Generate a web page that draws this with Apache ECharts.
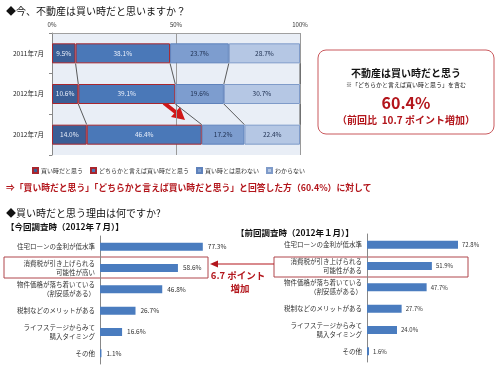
<!DOCTYPE html>
<html><head><meta charset="utf-8">
<script src="https://cdn.jsdelivr.net/npm/echarts@6/dist/echarts.min.js"></script>
<style>html,body{margin:0;padding:0;background:#fff}#c{width:500px;height:375px}</style>
</head><body><div id="c"></div>
<script>
const topCategories = ['2011年7月', '2012年1月', '2012年7月'];
const seriesNames = ['買い時だと思う', 'どちらかと言えば買い時だと思う', '買い時とは思わない', 'わからない'];
const buyNow = [9.5, 10.6, 14.0];
const ratherBuy = [38.1, 39.1, 46.4];
const notBuy = [23.7, 19.6, 17.2];
const unknown = [28.7, 30.7, 22.4];
const pctTicks = ['0%', '50%', '100%'];

const reasonsNow = ['住宅ローンの金利が低水準', '消費税が引き上げられる\n可能性が高い', '物件価格が落ち着いている\n（割安感がある）', '税制などのメリットがある', 'ライフステージからみて\n購入タイミング', 'その他'];
const valuesNow = [77.3, 58.6, 46.8, 26.7, 16.6, 1.1];
const reasonsPrev = ['住宅ローンの金利が低水準', '消費税が引き上げられる\n可能性がある', '物件価格が落ち着いている\n（割安感がある）', '税制などのメリットがある', 'ライフステージからみて\n購入タイミング', 'その他'];
const valuesPrev = [72.8, 51.9, 47.7, 27.7, 24.0, 1.6];

const FONT = '"Noto Sans CJK JP", "Noto Sans", sans-serif';
const RED = '#b3161c';
const stackData = [buyNow, ratherBuy, notBuy, unknown];
const fills = ['#3a5e96', '#4a78b8', '#7d9dcf', '#b5c7e4'];
const borders = ['#a8262e', '#a8262e', '#5f82bb', '#7f9bc9'];
const labelColors = ['#e8eefa', '#e8eefa', '#1e2f50', '#1e2f50'];

// series lines between consecutive bars (cumulative boundaries, incl. total)
const connectors = [];
for (let i = 0; i < topCategories.length - 1; i++) {
  for (let j = 1; j <= stackData.length; j++) {
    let a = 0, b = 0;
    for (let k = 0; k < j; k++) { a += stackData[k][i]; b += stackData[k][i + 1]; }
    connectors.push([a, i, b, i + 1]);
  }
}

const chart = echarts.init(document.getElementById('c'), null, {renderer: 'canvas'});

const barSeries = stackData.map((d, s) => ({
  name: seriesNames[s], type: 'bar', stack: 'all', xAxisIndex: 0, yAxisIndex: 0,
  data: d, barWidth: 20,
  itemStyle: {color: fills[s], borderColor: borders[s], borderWidth: 1},
  label: {show: true, position: 'inside', fontSize: 6.5, fontFamily: FONT, color: labelColors[s],
    formatter: p => p.value.toFixed(1) + '%'},
  emphasis: {disabled: true}
}));

function txt(x, y, text, size, color, weight, align) {
  return {type: 'text', x: x, y: y, silent: true,
    style: {text: text, fill: color || '#000', font: (weight || 'normal') + ' ' + size + 'px ' + FONT,
      align: align || 'left', verticalAlign: 'middle'}};
}

chart.setOption({
  animation: false,
  textStyle: {fontFamily: FONT},
  grid: [
    {left: 52, width: 248, top: 33, height: 122, show: true, backgroundColor: '#e9eef6', borderWidth: 0},
    {left: 100, width: 133, top: 236, height: 128},
    {left: 367, width: 125, top: 234, height: 128}
  ],
  legend: {
    data: seriesNames, left: 27, top: 162, itemWidth: 5, itemHeight: 5, itemGap: 7,
    icon: 'rect', textStyle: {fontSize: 6, color: '#333', fontFamily: FONT, padding: [0, 0, 0, -2]}
  },
  xAxis: [
    {gridIndex: 0, type: 'value', min: 0, max: 100, interval: 50, position: 'top',
      axisLine: {show: true, lineStyle: {color: '#a0a0a0'}}, axisTick: {show: false},
      axisLabel: {fontSize: 6, color: '#333', margin: 5, formatter: v => pctTicks[v / 50]},
      splitLine: {show: true, lineStyle: {color: '#9a9a9a', width: 1}}},
    {gridIndex: 1, type: 'value', min: 0, max: 100, show: false},
    {gridIndex: 2, type: 'value', min: 0, max: 100, show: false}
  ],
  yAxis: [
    {gridIndex: 0, type: 'category', data: topCategories, inverse: true,
      axisLine: {show: true, lineStyle: {color: '#888'}}, axisTick: {show: true, length: 3, lineStyle: {color: '#888'}},
      axisLabel: {fontSize: 6.5, color: '#222', margin: 8}},
    {gridIndex: 1, type: 'category', data: reasonsNow, inverse: true,
      axisLine: {show: true, lineStyle: {color: '#888'}}, axisTick: {show: false},
      axisLabel: {fontSize: 6.5, color: '#333', margin: 5, lineHeight: 9, align: 'right'}},
    {gridIndex: 2, type: 'category', data: reasonsPrev, inverse: true,
      axisLine: {show: true, lineStyle: {color: '#888'}}, axisTick: {show: false},
      axisLabel: {fontSize: 6.5, color: '#333', margin: 5, lineHeight: 9, align: 'right'}}
  ],
  series: barSeries.concat([
    {type: 'custom', xAxisIndex: 0, yAxisIndex: 0, data: connectors, silent: true, z: 3,
      encode: {x: [0, 2], y: [1, 3]},
      renderItem: function (params, api) {
        const p1 = api.coord([api.value(0), api.value(1)]);
        const p2 = api.coord([api.value(2), api.value(3)]);
        return {type: 'line', shape: {x1: p1[0], y1: p1[1] + 10, x2: p2[0], y2: p2[1] - 10},
          style: {stroke: '#333', lineWidth: 0.8}};
      }},
    {type: 'bar', xAxisIndex: 1, yAxisIndex: 1, data: valuesNow, barWidth: 8,
      itemStyle: {color: '#4a7cbf'},
      label: {show: true, position: 'right', fontSize: 6.5, color: '#333', distance: 5,
        formatter: p => p.value.toFixed(1) + '%'}},
    {type: 'bar', xAxisIndex: 2, yAxisIndex: 2, data: valuesPrev, barWidth: 8,
      itemStyle: {color: '#4a7cbf'},
      label: {show: true, position: 'right', fontSize: 6, color: '#333', distance: 4,
        formatter: p => p.value.toFixed(1) + '%'}}
  ]),
  graphic: [
    txt(6, 11, '◆今、不動産は買い時だと思いますか？', 10, '#111'),
    {type: 'line', silent: true, shape: {x1: 164, y1: 103, x2: 178, y2: 114}, style: {stroke: '#d01818', lineWidth: 4}},
    {type: 'polygon', silent: true, shape: {points: [[185, 120], [171, 117], [180, 107]]}, style: {fill: '#d01818'}},
    {type: 'rect', silent: true, shape: {x: 318, y: 50, width: 176, height: 84, r: 8}, style: {fill: '#fff', stroke: '#c9585c', lineWidth: 1}},
    txt(406, 73, '不動産は買い時だと思う', 10, '#111', 'bold', 'center'),
    txt(406, 85, '※「どちらかと言えば買い時と思う」を含む', 6, '#222', 'normal', 'center'),
    txt(406, 103, '60.4%', 16, RED, 'bold', 'center'),
    txt(406, 120, '（前回比  10.7 ポイント増加）', 10, RED, 'bold', 'center'),
    txt(6, 188, '⇒「買い時だと思う」「どちらかと言えば買い時だと思う」と回答した方（60.4%）に対して', 8.8, RED, 'bold'),
    txt(6, 213, '◆買い時だと思う理由は何ですか?', 10, '#111'),
    txt(6, 227, '【今回調査時（2012年７月）】', 8.5, '#111', 'bold'),
    txt(236, 233, '【前回調査時（2012年１月）】', 8.5, '#111', 'bold'),
    {type: 'rect', silent: true, shape: {x: 4, y: 257, width: 204, height: 21}, style: {fill: 'none', stroke: '#b0474c', lineWidth: 1}},
    {type: 'rect', silent: true, shape: {x: 274, y: 257, width: 194, height: 20}, style: {fill: 'none', stroke: '#b0474c', lineWidth: 1}},
    {type: 'line', silent: true, shape: {x1: 274, y1: 264, x2: 216, y2: 264}, style: {stroke: RED, lineWidth: 1.2}},
    {type: 'polygon', silent: true, shape: {points: [[210, 264], [218, 260.5], [218, 267.5]]}, style: {fill: RED}},
    txt(238, 275, '6.7 ポイント', 9.5, RED, 'bold', 'center'),
    txt(240, 288, '増加', 9.5, RED, 'bold', 'center')
  ]
});
</script></body></html>
